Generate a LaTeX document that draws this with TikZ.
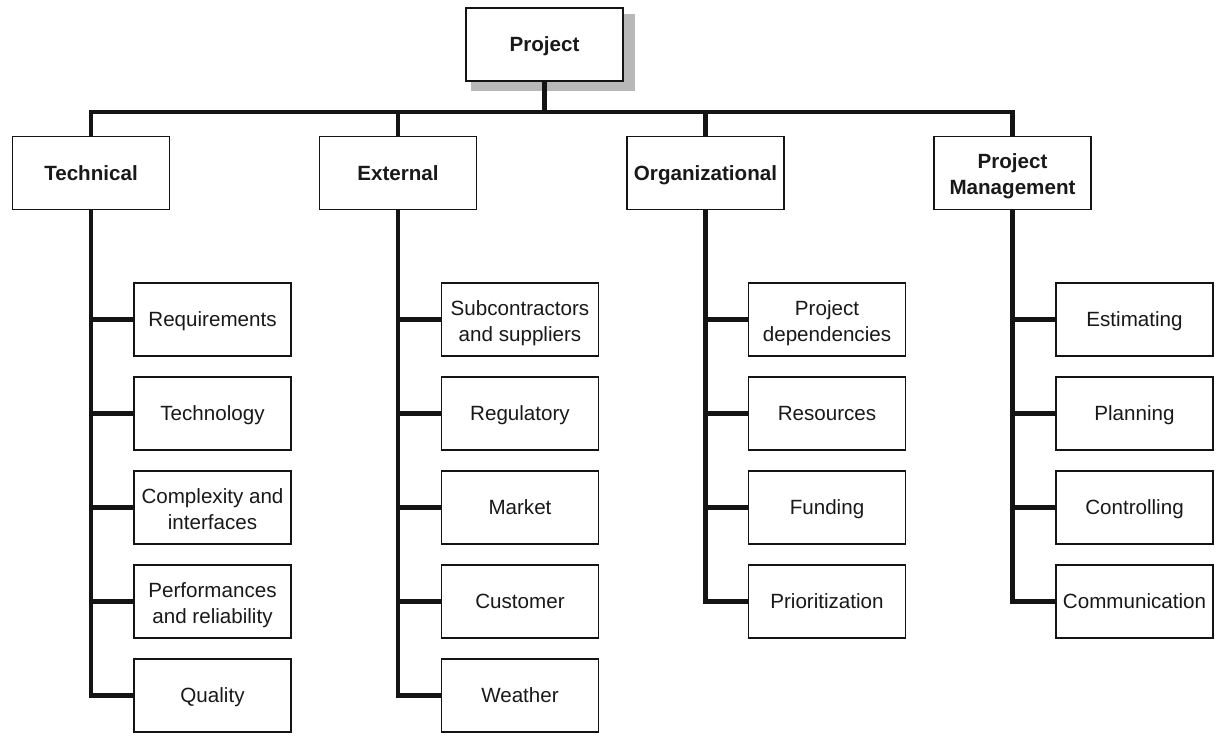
\documentclass[tikz,border=0pt]{standalone}
\usepackage{fontspec}
\setmainfont{Liberation Sans}
\begin{document}
\begin{tikzpicture}[x=0.5pt,y=-0.5pt,
  base/.style={draw=black!92, line width=0.55pt, fill=white, minimum width=78.5pt, minimum height=36.5pt, inner sep=0pt, align=center, font=\fontsize{10.3}{12.8}\selectfont, text=black!90},
  box/.style={base, text height=7.4pt, text depth=0pt},
  box2/.style={base, text height=22pt, text depth=0pt},
  cat/.style={box, font=\bfseries\fontsize{10.3}{12.8}\selectfont},
  cat2/.style={base, text height=21pt, text depth=0pt, font=\bfseries\fontsize{10.3}{12.8}\selectfont},
  conn/.style={line width=2.4pt, draw=black!92, line join=miter},
  shadow/.style={fill=black!28}]
\useasboundingbox (0,0) rectangle (1223,740);
% top
\fill[shadow] (471,14) rectangle (635,91);
\node[cat] (proj) at (544.5,44.5) {Project};
% categories
\node[cat] (tech) at (91,173) {Technical};
\node[cat] (ext) at (398,173) {External};
\node[cat] (org) at (705.5,173) {Organizational};
\node[cat2] (pm) at (1012.5,173) {Project\\Management};
\coordinate (bus) at (0,112);
\draw[conn] (proj.south) -- (proj.south |- bus);
\draw[conn] (tech.north) -- (tech.north |- bus) -- (pm.north |- bus) -- (pm.north);
\draw[conn] (ext.north |- bus) -- (ext.north);
\draw[conn] (org.north |- bus) -- (org.north);
% leaves
\foreach \n/\x/\lst in {t/212.5/{box/Requirements,box/Technology,box2/Complexity and\\interfaces,box2/Performances\\and reliability,box/Quality},
                        e/520/{box2/Subcontractors\\and suppliers,box/Regulatory,box/Market,box/Customer,box/Weather},
                        o/827/{box2/Project\\dependencies,box/Resources,box/Funding,box/Prioritization},
                        p/1134.5/{box/Estimating,box/Planning,box/Controlling,box/Communication}}{
  \foreach \st/\lab [count=\i] in \lst {
    \node[\st] (\n\i) at (\x,{319.5+94*(\i-1)}) {\lab};
  }
}
% spines
\draw[conn] (tech.south) -- (tech.south |- t5.west) -- (t5.west);
\foreach \i in {1,...,4} \draw[conn] (tech.south |- t\i.west) -- (t\i.west);
\draw[conn] (ext.south) -- (ext.south |- e5.west) -- (e5.west);
\foreach \i in {1,...,4} \draw[conn] (ext.south |- e\i.west) -- (e\i.west);
\draw[conn] (org.south) -- (org.south |- o4.west) -- (o4.west);
\foreach \i in {1,...,3} \draw[conn] (org.south |- o\i.west) -- (o\i.west);
\draw[conn] (pm.south) -- (pm.south |- p4.west) -- (p4.west);
\foreach \i in {1,...,3} \draw[conn] (pm.south |- p\i.west) -- (p\i.west);
\end{tikzpicture}
\end{document}
